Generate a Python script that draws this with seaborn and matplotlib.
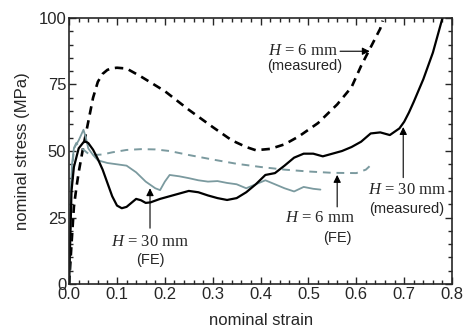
import matplotlib
matplotlib.use("Agg")
import matplotlib.pyplot as plt
import seaborn as sns
import pandas as pd
from matplotlib.ticker import MultipleLocator

# ---- data ----
h6_meas_x = [0.0, 0.005, 0.01, 0.015, 0.02, 0.03, 0.04, 0.05, 0.06, 0.07, 0.08, 0.09, 0.10,
             0.12, 0.15, 0.20, 0.25, 0.30, 0.34, 0.37, 0.39, 0.42, 0.45, 0.48, 0.52, 0.56,
             0.59, 0.61, 0.63, 0.65, 0.655]
h6_meas_y = [0, 15, 29, 36, 42, 52, 61, 70, 76, 79, 80.5, 81.1, 81.3,
             81, 78, 72.5, 65.5, 59, 54, 51.5, 50.3, 50.8, 52.5, 55.5, 60.5, 67.5,
             74, 82, 89, 96, 99]

h30_meas_x = [0.0, 0.005, 0.01, 0.02, 0.03, 0.035, 0.04, 0.05, 0.06, 0.07, 0.08, 0.09, 0.10,
              0.11, 0.12, 0.13, 0.14, 0.15, 0.16, 0.17, 0.19, 0.21, 0.23, 0.25, 0.27, 0.29,
              0.31, 0.33, 0.35, 0.37, 0.39, 0.41, 0.43, 0.45, 0.47, 0.49, 0.51, 0.53, 0.55,
              0.57, 0.59, 0.61, 0.63, 0.65, 0.67, 0.69, 0.70, 0.71, 0.72, 0.74, 0.76, 0.78]
h30_meas_y = [0, 35, 44, 51, 53.3, 53.5, 53, 50.5, 47, 43, 38, 33, 29.5,
              28.5, 29, 30.5, 32, 31.5, 30.5, 30.7, 32, 33, 34, 35, 34.5, 33.3,
              32.3, 31.6, 32.3, 34.5, 37.5, 41, 41.7, 44.5, 47.5, 49, 49, 48, 49,
              50, 51.5, 53.5, 56.6, 57, 56, 58.5, 61, 64.5, 68.5, 77, 87, 100]

h30_fe_x = [0.0, 0.003, 0.006, 0.01, 0.015, 0.02, 0.025, 0.03, 0.035, 0.04, 0.05, 0.06,
            0.08, 0.10, 0.12, 0.14, 0.16, 0.18, 0.19, 0.20, 0.21, 0.23, 0.25, 0.27, 0.29,
            0.31, 0.33, 0.35, 0.37, 0.39, 0.41, 0.43, 0.45, 0.47, 0.49, 0.51, 0.525]
h30_fe_y = [0, 30, 45, 51, 52.5, 54, 56, 58, 55, 51, 48.5, 46.5,
            45.5, 45, 44.5, 42, 38.5, 36, 35.3, 38.5, 41, 40.5, 39.8, 39, 38.5,
            38.7, 38, 37.5, 36, 37.5, 39, 37.5, 36, 34.8, 36.5, 35.8, 35.5]

h6_fe_x = [0.0, 0.005, 0.01, 0.015, 0.02, 0.03, 0.04, 0.05, 0.07, 0.09, 0.12, 0.15, 0.18,
           0.21, 0.25, 0.30, 0.35, 0.40, 0.45, 0.50, 0.55, 0.60, 0.62, 0.635]
h6_fe_y = [0, 40, 51, 53, 52, 50.5, 49, 48.5, 48.7, 49.5, 50.4, 50.7, 50.6,
           50, 48.5, 46.8, 45.2, 44, 43, 42.3, 41.8, 41.7, 43, 45.5]

x_ticks = [0.0, 0.1, 0.2, 0.3, 0.4, 0.5, 0.6, 0.7, 0.8]
y_ticks = [0, 25, 50, 75, 100]

sns.set_style("ticks")
plt.rcParams["font.family"] = ["Liberation Sans", "DejaVu Sans"]
plt.rcParams["mathtext.fontset"] = "custom"
plt.rcParams["mathtext.it"] = "Liberation Serif:italic"
plt.rcParams["mathtext.rm"] = "Liberation Serif"

fig = plt.figure(figsize=(4.67, 3.33), dpi=100)
ax = fig.add_axes([0.148, 0.147, 0.820, 0.799])

grey = "#7b9a9f"
sns.lineplot(x=h6_meas_x, y=h6_meas_y, ax=ax, color="black", lw=1.9,
             estimator=None, sort=False, linestyle=(0, (3.2, 2.2)))
sns.lineplot(x=h6_fe_x, y=h6_fe_y, ax=ax, color=grey, lw=1.4,
             estimator=None, sort=False, linestyle=(0, (4, 3)))
sns.lineplot(x=h30_fe_x, y=h30_fe_y, ax=ax, color=grey, lw=1.3,
             estimator=None, sort=False)
sns.lineplot(x=h30_meas_x, y=h30_meas_y, ax=ax, color="black", lw=1.6,
             estimator=None, sort=False)

ax.set_xlim(0, 0.8)
ax.set_ylim(0, 100)
ax.set_xticks(x_ticks)
ax.set_yticks(y_ticks)
ax.set_xticklabels([f"{t:.1f}" for t in x_ticks])
ax.xaxis.set_minor_locator(MultipleLocator(0.02))
ax.yaxis.set_minor_locator(MultipleLocator(5))
ax.tick_params(which="both", direction="in", top=True, right=True, labelsize=12, width=1)
ax.tick_params(which="major", length=5, pad=2)
ax.tick_params(which="minor", length=3)
for s in ax.spines.values():
    s.set_linewidth(1.2)

ax.set_xlabel("nominal strain", fontsize=12, labelpad=8)
ax.set_ylabel("nominal stress (MPa)", fontsize=12, labelpad=6)

serif = dict(family="Liberation Serif", fontsize=12, ha="center", va="center")
sans = dict(fontsize=10.5, ha="center", va="center")
arr = dict(arrowstyle="-|>", color="black", lw=0.8, mutation_scale=11, shrinkA=0, shrinkB=0)

# H = 6 mm (measured)
ax.text(0.489, 87.6, "$H$ = 6 mm", **serif)
ax.text(0.493, 82.0, "(measured)", **sans)
ax.annotate("", xy=(0.628, 87.5), xytext=(0.566, 87.5), arrowprops=arr)

# H = 30 mm (FE)
ax.annotate("", xy=(0.169, 36), xytext=(0.169, 21), arrowprops=arr)
ax.text(0.169, 15.8, "$H$ = 30 mm", **serif)
ax.text(0.169, 9.0, "(FE)", **sans)

# H = 6 mm (FE)
ax.annotate("", xy=(0.56, 41), xytext=(0.56, 29), arrowprops=arr)
ax.text(0.525, 24.8, "$H$ = 6 mm", **serif)
ax.text(0.56, 17.3, "(FE)", **sans)

# H = 30 mm (measured)
ax.annotate("", xy=(0.698, 59), xytext=(0.698, 40), arrowprops=arr)
ax.text(0.706, 35.3, "$H$ = 30 mm", **serif)
ax.text(0.706, 28.2, "(measured)", **sans)

fig.savefig("out.png", dpi=100)
